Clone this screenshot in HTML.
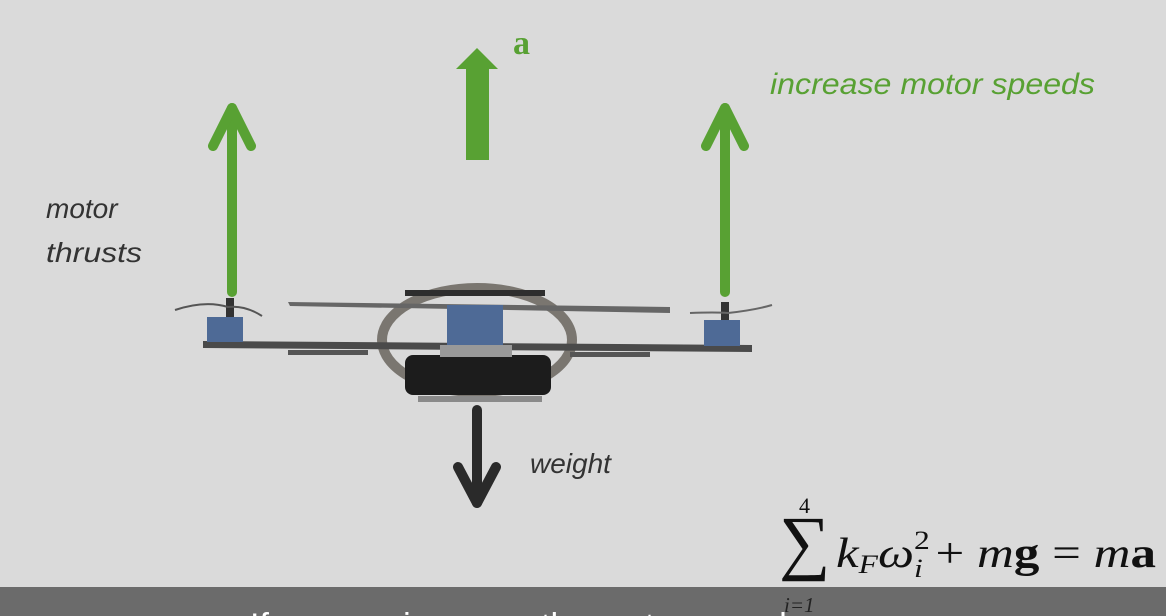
<!DOCTYPE html>
<html><head><meta charset="utf-8"><style>
html,body{margin:0;padding:0;background:#dadada;}
svg{display:block}
</style></head><body>
<svg width="1166" height="616" viewBox="0 0 1166 616" xmlns="http://www.w3.org/2000/svg">
<rect x="0" y="0" width="1166" height="616" fill="#dadada"/>

<g stroke="#58a133" fill="none" stroke-linecap="round" stroke-linejoin="round">
<line x1="232" y1="292" x2="232" y2="108" stroke-width="10"/>
<polyline points="213,146 232,108 251,146" stroke-width="10"/>
</g>
<g stroke="#58a133" fill="none" stroke-linecap="round" stroke-linejoin="round">
<line x1="725" y1="292" x2="725" y2="108" stroke-width="10"/>
<polyline points="706,146 725,108 744,146" stroke-width="10"/>
</g>
<g fill="#58a133">
<rect x="466" y="68" width="23" height="92"/>
<polygon points="456,69 477,48 498,69"/>
</g>
<text x="513" y="54" font-family="Liberation Serif, serif" font-weight="bold" font-size="34" fill="#58a133">a</text>

<text x="770" y="94" textLength="325" lengthAdjust="spacingAndGlyphs" font-family="Liberation Sans, sans-serif" font-style="italic" font-size="30" fill="#58a133">increase motor speeds</text>
<text x="46" y="218" font-family="Liberation Sans, sans-serif" font-style="italic" font-size="28" fill="#333">motor</text>
<text x="46" y="262" textLength="96" lengthAdjust="spacingAndGlyphs" font-family="Liberation Sans, sans-serif" font-style="italic" font-size="28" fill="#333">thrusts</text>

<g>
<ellipse cx="477" cy="340" rx="95" ry="52" fill="none" stroke="#7a7670" stroke-width="10"/>
<rect x="405" y="290" width="140" height="6" fill="#2e2e2e"/>
<rect x="405" y="355" width="146" height="40" rx="8" fill="#1c1c1c"/>
<rect x="418" y="396" width="124" height="6" fill="#8a8a8a"/>
<polygon points="203,341 752,345 752,352 203,348" fill="#4a4a4a"/>
<rect x="288" y="350" width="80" height="5" fill="#555"/>
<rect x="570" y="352" width="80" height="5" fill="#555"/>
<polygon points="288,302 670,307 670,313 290,306" fill="#666"/>
<rect x="447" y="305" width="56" height="42" fill="#4e6a96"/>
<rect x="440" y="345" width="72" height="12" fill="#999"/>
<rect x="207" y="317" width="36" height="25" fill="#4e6a96"/>
<rect x="226" y="298" width="8" height="19" fill="#333"/>
<path d="M175,310 Q205,300 228,307 Q245,305 262,316" stroke="#555" stroke-width="2" fill="none"/>
<rect x="704" y="320" width="36" height="26" fill="#4e6a96"/>
<rect x="721" y="302" width="8" height="18" fill="#333"/>
<path d="M690,313 Q715,312 728,313 Q755,310 772,305" stroke="#666" stroke-width="2" fill="none"/>
</g>

<g stroke="#2a2a2a" fill="none" stroke-linecap="round" stroke-linejoin="round">
<line x1="477" y1="410" x2="477" y2="503" stroke-width="10"/>
<polyline points="458,467 477,503 496,467" stroke-width="10"/>
</g>
<text x="530" y="473" font-family="Liberation Sans, sans-serif" font-style="italic" font-size="28" fill="#333">weight</text>

<g font-family="Liberation Serif, serif" fill="#111">
<text x="799" y="513" font-size="22">4</text>
<text x="779" y="566" font-size="72">∑</text>
<text x="836" y="567" textLength="320" lengthAdjust="spacingAndGlyphs" font-size="42"><tspan font-style="italic">k</tspan><tspan font-style="italic" font-size="26" dy="6">F</tspan><tspan font-style="italic" dy="-6">ω</tspan><tspan font-size="26" dy="-18">2</tspan><tspan font-style="italic" font-size="26" dx="-13" dy="28">i</tspan><tspan dy="-10"> + </tspan><tspan font-style="italic">m</tspan><tspan font-weight="bold">g</tspan><tspan> = </tspan><tspan font-style="italic">m</tspan><tspan font-weight="bold">a</tspan></text>
</g>

<rect x="0" y="587" width="1166" height="29" fill="#6b6b6b"/>
<text x="784" y="612" font-family="Liberation Serif, serif" font-style="italic" font-size="21" fill="#222">i=1</text>
<text x="250" y="637" font-family="Liberation Sans, sans-serif" font-size="34" fill="#ffffff">If we now increase the motor speeds</text>
</svg>
</body></html>
